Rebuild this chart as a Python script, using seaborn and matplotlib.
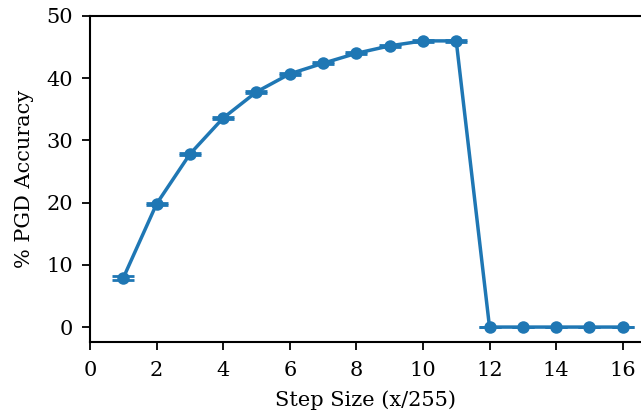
import matplotlib
matplotlib.use("Agg")
import matplotlib.pyplot as plt
import seaborn as sns
import pandas as pd

step_size = [1, 2, 3, 4, 5, 6, 7, 8, 9, 10, 11, 12, 13, 14, 15, 16]
pgd_acc = [7.9, 19.8, 27.8, 33.6, 37.8, 40.7, 42.4, 44.0, 45.2, 46.0, 46.0, 0, 0, 0, 0, 0]
pgd_err = [0.3, 0.2, 0.2, 0.2, 0.15, 0.15, 0.15, 0.15, 0.15, 0.15, 0.15, 0, 0, 0, 0, 0]

sns.set_style("ticks")
plt.rcParams['font.family'] = ['DejaVu Serif']
plt.rcParams['text.color'] = 'black'
plt.rcParams['axes.labelcolor'] = 'black'
plt.rcParams['xtick.color'] = 'black'
plt.rcParams['ytick.color'] = 'black'
plt.rcParams['axes.edgecolor'] = 'black'
df = pd.DataFrame({"step": step_size, "acc": pgd_acc, "err": pgd_err})

fig = plt.figure(figsize=(6.41, 4.16), dpi=100)
ax = fig.add_axes([90/641, (416-342)/416, (641-90)/641, (342-16)/416])
ax.errorbar(df["step"], df["acc"], yerr=df["err"], fmt="none", ecolor="#1f77b4",
            capsize=8, elinewidth=2, capthick=2)
sns.lineplot(data=df, x="step", y="acc", marker="o", color="#1f77b4",
             linewidth=2.5, markersize=9, markeredgewidth=0, ax=ax)
ax.set_xlim(0, 16.55)
ax.set_ylim(-2.4, 50)
ax.set_xticks(range(0, 17, 2))
ax.set_yticks(range(0, 51, 10))
ax.spines['right'].set_visible(False)
ax.tick_params(labelsize=15, length=6, width=1.3)
ax.tick_params(axis='x', pad=8)
ax.tick_params(axis='y', pad=6)
for s in ax.spines.values():
    s.set_linewidth(1.5)
ax.set_xlabel("Step Size (x/255)", fontsize=15, labelpad=7)
ax.set_ylabel("% PGD Accuracy", fontsize=15, labelpad=9)
fig.savefig("out.png", dpi=100)
